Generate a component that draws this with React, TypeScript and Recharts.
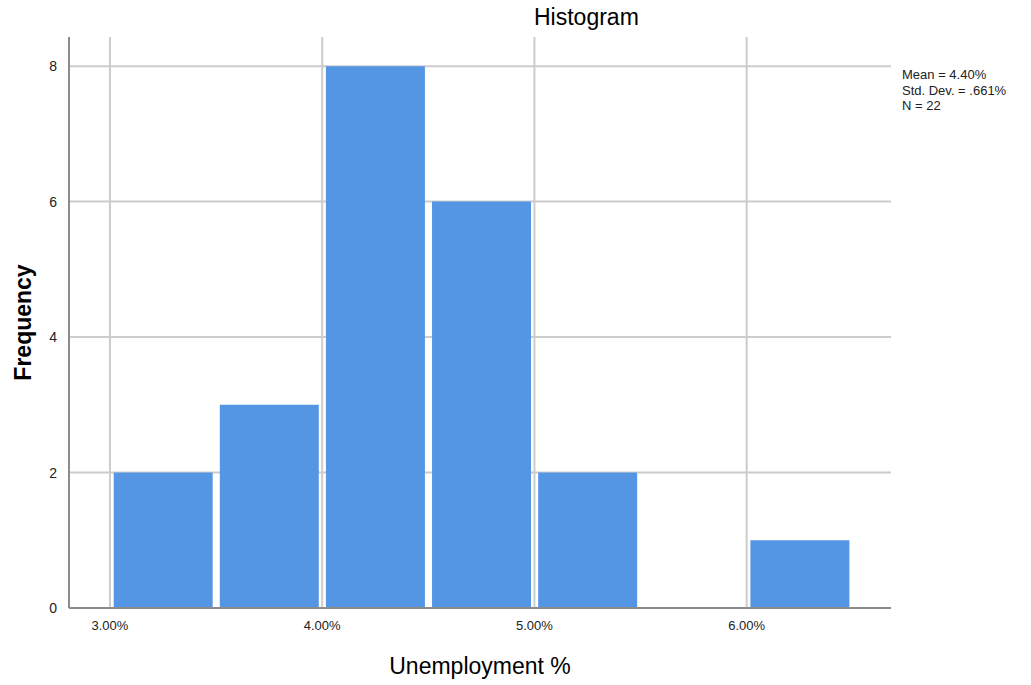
import React from "react"
import { BarChart, Bar, XAxis, YAxis, CartesianGrid, Label } from "recharts"

// histogram bins (midpoint of each 0.5% bin) and counts
const binMids = [3.25, 3.75, 4.25, 4.75, 5.25, 5.75, 6.25]
const counts = [2, 3, 8, 6, 2, 0, 1]
const xTicks = [3, 4, 5, 6]
const yTicks = [0, 2, 4, 6, 8]
const stats = ["Mean = 4.40%", "Std. Dev. = .661%", "N = 22"]

const data = binMids.map((mid, i) => ({ mid, count: counts[i] }))

const FONT = "Arial, 'Liberation Sans', sans-serif"
const BAR = "#5495e4"
const GRID = "#cccccc"
const AXIS = "#8c8c8c"

export default function App() {
  return (
    <div style={{ position: "absolute", left: 0, top: 0, width: 1031, height: 685, background: "#fff", fontFamily: FONT }}>
      <div style={{ position: "absolute", left: 534, top: 4, fontSize: 23, color: "#000" }}>Histogram</div>
      <div style={{ position: "absolute", left: 902, top: 67, fontSize: 13, lineHeight: "15.5px", color: "#222" }}>
        {stats.map((s) => (
          <div key={s}>{s}</div>
        ))}
      </div>
      <BarChart
        width={1031}
        height={685}
        data={data}
        margin={{ top: 37, right: 140, bottom: 40, left: 0 }}
        barCategoryGap="3.5%"
      >
        <CartesianGrid stroke={GRID} strokeWidth={2} horizontalValues={yTicks.slice(1)} verticalValues={xTicks} />
        <XAxis
          dataKey="mid"
          type="number"
          domain={[2.807, 6.68]}
          ticks={xTicks}
          allowDataOverflow
          tickFormatter={(v: number) => `${v.toFixed(2)}%`}
          tickLine={false}
          axisLine={{ stroke: AXIS, strokeWidth: 2 }}
          tick={{ fill: "#222", fontSize: 13, fontFamily: FONT }}
          tickMargin={7}
          height={37}
        >
          <Label value="Unemployment %" position="insideBottom" offset={-29} style={{ fontSize: 23, fill: "#000", fontFamily: FONT }} />
        </XAxis>
        <YAxis
          type="number"
          domain={[0, 8.43]}
          ticks={yTicks}
          allowDataOverflow
          tickLine={false}
          axisLine={{ stroke: AXIS, strokeWidth: 2 }}
          tick={{ fill: "#222", fontSize: 14, fontFamily: FONT }}
          tickMargin={6}
          width={69}
        >
          <Label value="Frequency" angle={-90} position="center" dx={-12} style={{ fontSize: 23, fontWeight: "bold", fill: "#000", fontFamily: FONT }} />
        </YAxis>
        <Bar dataKey="count" fill={BAR} isAnimationActive={false} />
      </BarChart>
    </div>
  )
}
